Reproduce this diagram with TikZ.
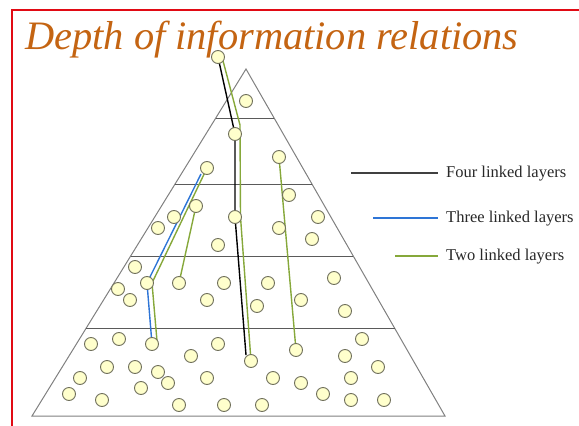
\documentclass[tikz,border=0pt]{standalone}
\usepackage{fontspec}
\setmainfont{Liberation Serif}
\usetikzlibrary{backgrounds}
\definecolor{titlecol}{RGB}{196,100,18}
\definecolor{dotfill}{RGB}{255,255,204}
\definecolor{dotline}{RGB}{112,112,92}
\definecolor{lkgreen}{RGB}{134,168,58}
\definecolor{lkblue}{RGB}{46,117,214}
\definecolor{framered}{RGB}{225,10,20}
\definecolor{sidegray}{RGB}{128,128,128}
\definecolor{layergray}{RGB}{90,90,90}
\definecolor{legtext}{RGB}{40,40,40}
\begin{document}
\begin{tikzpicture}[x=1pt,y=-1pt,
  dot/.style={circle,draw=dotline,fill=dotfill,line width=0.9pt,minimum size=13pt,inner sep=0pt},
  sideline/.style={draw=sidegray,line width=1pt},
  layerline/.style={draw=layergray,line width=1pt},
  fourlink/.style={draw=black,line width=1.4pt},
  threelink/.style={draw=lkblue,line width=1.4pt},
  twolink/.style={draw=lkgreen,line width=1.4pt},
  legtextstyle/.style={anchor=base west,inner sep=0pt,text=legtext,font=\fontsize{16.5}{19}\selectfont},
  fourleg/.style={draw=black!75,line width=1.4pt,shorten >=8pt},
  threeleg/.style={draw=lkblue,line width=1.4pt,shorten >=8pt},
  twoleg/.style={draw=lkgreen,line width=1.4pt,shorten >=8pt}]
\path[use as bounding box] (0,0) rectangle (579,426);
% frame
\fill[framered] (10.5,426) rectangle (12.5,8.5);
\fill[framered] (10.5,8.5) rectangle (579,10.5);
% title
\node[anchor=base west,inner sep=0pt,text=titlecol,font=\fontsize{40.4}{48}\selectfont\itshape] (title) at (25,49) {Depth of information relations};
% circles
\foreach \n/\x/\y in {1/218/57,2/246/101,3/235/134,4/279/157,5/207/168,6/289/195,7/196/206,8/174/217,9/235/217,10/318/217,
  11/158/228,12/279/228,13/312/239,14/218/245,15/135/267,16/147/283,17/179/283,18/224/283,19/268/283,20/334/278,
  21/118/289,22/130/300,23/207/300,24/301/300,25/257/306,26/345/311,27/91/344,28/119/339,29/152/344,30/218/344,
  31/362/339,32/296/350,33/191/356,34/345/356,35/251/361,36/107/367,37/135/367,38/378/367,39/158/372,40/80/378,
  41/207/378,42/273/378,43/351/378,44/168/383,45/301/383,46/141/388,47/69/394,48/323/394,49/102/400,50/351/400,
  51/384/400,52/179/405,53/224/405,54/262/405}
  \node[dot] (c\n) at (\x,\y) {};
% coordinates for free ends
\coordinate (apex) at (246,69);
\coordinate (bl) at (32,416);
\coordinate (br) at (445,416);
\coordinate (k1) at (246,355);
\coordinate (g0) at (222,57);
\coordinate (g1) at (240,125);
\coordinate (g2) at (240.5,217);
\coordinate (g3) at (152,283);
\coordinate (g4) at (157,341);
\coordinate (b0) at (201,174);
\begin{pgfonlayer}{background}
  \draw[sideline] (apex) -- (bl) -- (br) -- cycle;
  \draw[layerline] (215.8,118) -- (274.1,118);
  \draw[layerline] (175.1,184) -- (312.0,184);
  \draw[layerline] (130.7,256) -- (353.2,256);
  \draw[layerline] (86.3,328) -- (394.5,328);
  % four linked
  \draw[fourlink] (c1.center) -- (c3.center) -- (c9.center) -- (k1);
  % two linked (long)
  \draw[twolink] (g0) -- (g1) -- (g2) -- (c35.center);
  % three linked
  \draw[threelink] (b0) -- (c16.center) -- (c29.center);
  % two linked
  \draw[twolink] (c5.center) -- (g3) -- (g4);
  \draw[twolink] (c7.center) -- (c17.center);
  \draw[twolink] (c4.center) -- (c32.center);
\end{pgfonlayer}
% legend
\node[legtextstyle] (t1) at (446,177) {Four linked layers};
\node[legtextstyle] (t2) at (446,222) {Three linked layers};
\node[legtextstyle] (t3) at (446,260) {Two linked layers};
\coordinate (l1) at ([xshift=-95pt]t1.west);
\coordinate (l2) at ([xshift=-73pt]t2.west);
\coordinate (l3) at ([xshift=-51pt]t3.west);
\draw[fourleg] (l1) -- (t1);
\draw[threeleg] (l2) -- (t2);
\draw[twoleg] (l3) -- (t3);
\end{tikzpicture}
\end{document}
